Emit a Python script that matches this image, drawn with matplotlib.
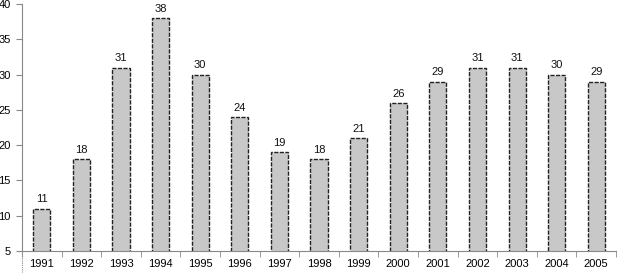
import matplotlib
matplotlib.use("Agg")
import matplotlib.pyplot as plt
import numpy as np

years = ["1991", "1992", "1993", "1994", "1995", "1996", "1997", "1998",
         "1999", "2000", "2001", "2002", "2003", "2004", "2005"]
values = [11, 18, 31, 38, 30, 24, 19, 18, 21, 26, 29, 31, 31, 30, 29]
y_ticks = [5, 10, 15, 20, 25, 30, 35, 40]

plt.rcParams["font.family"] = ["Liberation Sans", "DejaVu Sans"]

fig = plt.figure(figsize=(6.18, 2.75), dpi=100)
ax = fig.add_axes([0.0356, 0.0873, 0.9612, 0.8982])

x = np.arange(len(years))
bars = ax.bar(x, values, width=0.43, color="#c8c8c8", edgecolor="#222222",
              linewidth=1.0, linestyle=(0, (3, 1)))

for xi, v in zip(x, values):
    ax.text(xi, v + 0.6, str(v), ha="center", va="bottom", fontsize=8,
            color="#111111")

ax.set_xlim(-0.5, len(years) - 0.5)
ax.set_ylim(5, 40)
ax.set_yticks(y_ticks)
ax.set_yticklabels([str(t) for t in y_ticks], fontsize=8)

# year labels under bars, ticks between categories
ax.set_xticks(x)
ax.set_xticklabels(years, fontsize=8)
ax.tick_params(axis="x", which="major", length=0, pad=6)
ax.set_xticks(np.arange(len(years) + 1) - 0.5, minor=True)
ax.tick_params(axis="x", which="minor", length=4, color="#888888", direction="out")
ax.tick_params(axis="y", length=4, color="#888888", direction="out", pad=4)

for s in ["top", "right"]:
    ax.spines[s].set_visible(False)
ax.spines["bottom"].set_color("#888888")
ax.spines["left"].set_color("#888888")
ax.spines["left"].set_linestyle((0, (1, 1)))

# left axis line continues below the category axis
ax.plot([-0.5, -0.5], [5, 2.0], color="#888888", linewidth=0.8,
        linestyle=(0, (1, 1)), clip_on=False)

fig.savefig("out.png", dpi=100)
